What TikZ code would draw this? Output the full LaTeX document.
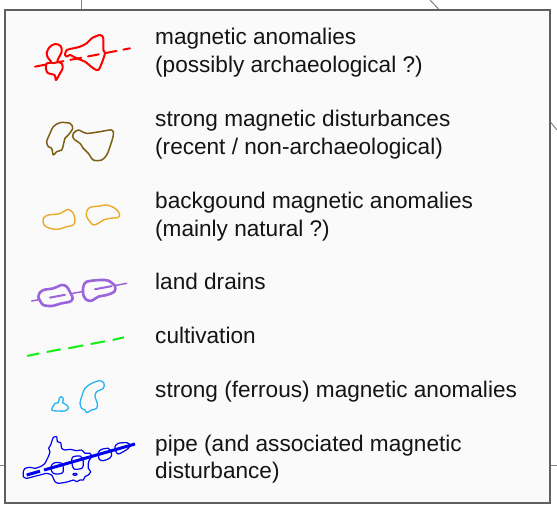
\documentclass[tikz,border=0pt]{standalone}
\usepackage{fontspec}
\setmainfont{Liberation Sans}
\definecolor{framegray}{RGB}{95,95,95}
\definecolor{bggray}{RGB}{250,250,250}
\definecolor{linegray}{RGB}{130,130,130}
\definecolor{anored}{RGB}{255,0,0}
\definecolor{distbrown}{RGB}{125,95,20}
\definecolor{bgorange}{RGB}{235,170,40}
\definecolor{drainpurple}{RGB}{155,100,220}
\definecolor{cultgreen}{RGB}{20,238,20}
\definecolor{ferrcyan}{RGB}{40,180,240}
\definecolor{pipeblue}{RGB}{0,0,240}
\begin{document}
\begin{tikzpicture}[x=1pt,y=-1pt,
  legtext/.style={anchor=base west,inner sep=0pt,font=\fontsize{22.6}{27}\selectfont,text=black!92},
  blob/.style={line join=round,line cap=round},
]
\useasboundingbox (0,0) rectangle (557,506);
% background lines outside the frame
\draw[linegray,line width=1pt] (81.5,0) -- (81.5,9);
\draw[linegray,line width=1pt] (430,0) -- (438.5,9);
\draw[linegray,line width=1pt] (550,121.5) -- (557,130);
\draw[linegray,line width=1pt] (0,465) -- (4,465);
\draw[linegray,line width=1pt] (550,465.7) -- (557,465.7);
% frame
\draw[framegray,fill=bggray,line width=2pt] (4.5,9.5) rectangle (549.5,503);

% texts
\node[legtext] (t1a) at (155,44) {magnetic anomalies};
\node[legtext] (t1b) at (155,72) {(possibly archaeological ?)};
\node[legtext] (t2a) at (155,126) {strong magnetic disturbances};
\node[legtext] (t2b) at (155,154) {(recent / non-archaeological)};
\node[legtext] (t3a) at (155,208) {backgound magnetic anomalies};
\node[legtext] (t3b) at (155,236) {(mainly natural ?)};
\node[legtext] (t4) at (155,289) {land drains};
\node[legtext] (t5) at (155,343) {cultivation};
\node[legtext] (t6) at (155,397) {strong (ferrous) magnetic anomalies};
\node[legtext] (t7a) at (155,451) {pipe (and associated magnetic};
\node[legtext] (t7b) at (155,478.5) {disturbance)};

% red + brown symbols (zoom frame at 20,20)
\begin{scope}[shift={(20,20)},scale=1/3]
  \draw[anored,line width=2pt,dash pattern=on 11pt off 7pt,line cap=round] (45,140) -- (330,85);
  \draw[anored,line width=2pt,blob] plot[smooth cycle,tension=0.55] coordinates {(80,100) (88,82) (105,72) (122,78) (125,95) (118,110) (112,124) (125,130) (128,145) (120,160) (108,180) (104,165) (85,160) (78,148) (80,130) (95,128) (85,115)};
  \draw[anored,line width=2pt,blob] plot[smooth cycle,tension=0.5] coordinates {(135,105) (140,90) (160,85) (180,80) (200,70) (215,55) (240,45) (250,55) (250,90) (255,100) (245,130) (235,150) (220,145) (195,125) (170,115) (150,105) (140,110)};
  \draw[distbrown,line width=1.5pt,blob] plot[smooth cycle,tension=0.5] coordinates {(100,320) (120,308) (150,310) (158,325) (145,345) (135,355) (130,375) (125,390) (110,395) (100,405) (95,385) (85,380) (80,365) (90,340)};
  \draw[distbrown,line width=1.5pt,blob] plot[smooth cycle,tension=0.5] coordinates {(160,340) (175,330) (200,340) (240,335) (275,330) (280,345) (270,380) (260,405) (245,420) (220,420) (205,400) (190,385) (180,370) (165,360) (158,350)};
\end{scope}

% orange + purple symbols (zoom frame at 20,180)
\begin{scope}[shift={(20,180)},scale=1/3]
  \draw[bgorange,line width=1.4pt,blob] plot[smooth cycle,tension=0.55] coordinates {(70,115) (85,105) (115,102) (130,95) (145,88) (160,100) (165,120) (160,135) (140,140) (115,148) (90,145) (72,135)};
  \draw[bgorange,line width=1.4pt,blob] plot[smooth cycle,tension=0.55] coordinates {(200,95) (210,82) (240,78) (260,75) (285,85) (298,100) (295,112) (270,115) (250,120) (235,130) (220,135) (210,125) (200,110)};
  \draw[drainpurple,line width=1.5pt,line cap=round] (35,363) -- (58,358.7);
  \draw[drainpurple,line width=1.5pt,line cap=round] (158,340.1) -- (190,334.2);
  \draw[drainpurple,line width=1.5pt,line cap=round] (285,316.5) -- (320,310);
  \draw[drainpurple,line width=2pt,line cap=round] (90,352.8) -- (135,344.4);
  \draw[drainpurple,line width=2pt,line cap=round] (225,327.7) -- (275,318.4);
  \draw[drainpurple,line width=2.6pt,blob] plot[smooth cycle,tension=0.5] coordinates {(58,340) (70,330) (100,325) (125,315) (140,320) (152,340) (158,355) (150,365) (125,370) (95,378) (70,375) (60,362) (55,350)};
  \draw[drainpurple,line width=2.6pt,blob] plot[smooth cycle,tension=0.5] coordinates {(190,320) (200,305) (240,300) (265,302) (285,318) (283,335) (260,345) (235,350) (215,362) (200,360) (190,345)};
\end{scope}

% green dashes (zoom frame at 20,330)
\begin{scope}[shift={(20,330)},scale=1/3]
  \foreach \a/\b/\c/\d in {22/78/58/70, 80/66/122/58, 145/55/190/46, 212/42/255/34, 278/30/312/22}
    \draw[cultgreen,line width=2pt] (\a,\b) -- (\c,\d);
\end{scope}

% cyan (zoom frame at 20,350)
\begin{scope}[shift={(20,350)},scale=1/3]
  \draw[ferrcyan,line width=1.3pt,blob] plot[smooth cycle,tension=0.5] coordinates {(95,178) (105,160) (115,158) (118,145) (125,140) (130,148) (128,158) (140,165) (145,175) (135,183) (115,183) (100,182)};
  \draw[ferrcyan,line width=1.3pt,blob] plot[smooth cycle,tension=0.5] coordinates {(180,160) (185,140) (195,115) (215,100) (240,92) (252,100) (250,115) (230,125) (225,140) (232,160) (230,175) (215,180) (200,188) (195,180) (185,175)};
\end{scope}

% blue pipe (zoom frame at 20,430)
\begin{scope}[shift={(20,430)},scale=1/3]
  \draw[pipeblue,line width=1.2pt,blob] plot[smooth cycle,tension=0.35] coordinates {(10,125) (15,115) (30,112) (45,115) (55,112) (65,108) (75,100) (80,90) (85,80) (90,65) (86,55) (92,45) (95,35) (100,22) (110,20) (112,35) (122,38) (125,55) (135,60) (150,58) (170,62) (185,60) (195,70) (210,70) (215,80) (208,90) (205,100) (205,115) (212,125) (205,135) (195,140) (190,150) (180,150) (170,155) (160,150) (145,155) (130,158) (115,160) (105,155) (100,145) (95,135) (80,130) (60,135) (40,140) (20,145) (10,140)};
  \draw[pipeblue,line width=1.2pt] (165,133) ellipse [x radius=6,y radius=3];
  \draw[pipeblue,line width=3pt] (20,135) -- (60,123.6);
  \draw[pipeblue,line width=3pt] (72,120.1) -- (345,42);
  \draw[pipeblue,line width=1.2pt,blob] plot[smooth cycle,tension=0.5] coordinates {(95,105) (105,98) (125,100) (130,115) (128,128) (115,132) (100,130) (93,118)};
  \draw[pipeblue,line width=1.2pt,blob] plot[smooth cycle,tension=0.5] coordinates {(155,90) (160,80) (180,78) (188,85) (190,105) (185,115) (165,118) (158,110)};
  \draw[pipeblue,line width=1.2pt,blob] plot[smooth cycle,tension=0.5] coordinates {(235,68) (245,58) (265,55) (272,62) (275,75) (268,85) (250,92) (238,88)};
  \draw[pipeblue,line width=1.2pt,blob] plot[smooth cycle,tension=0.5] coordinates {(285,50) (295,40) (320,38) (330,45) (325,55) (310,65) (295,72) (288,65)};
\end{scope}
\end{tikzpicture}
\end{document}
